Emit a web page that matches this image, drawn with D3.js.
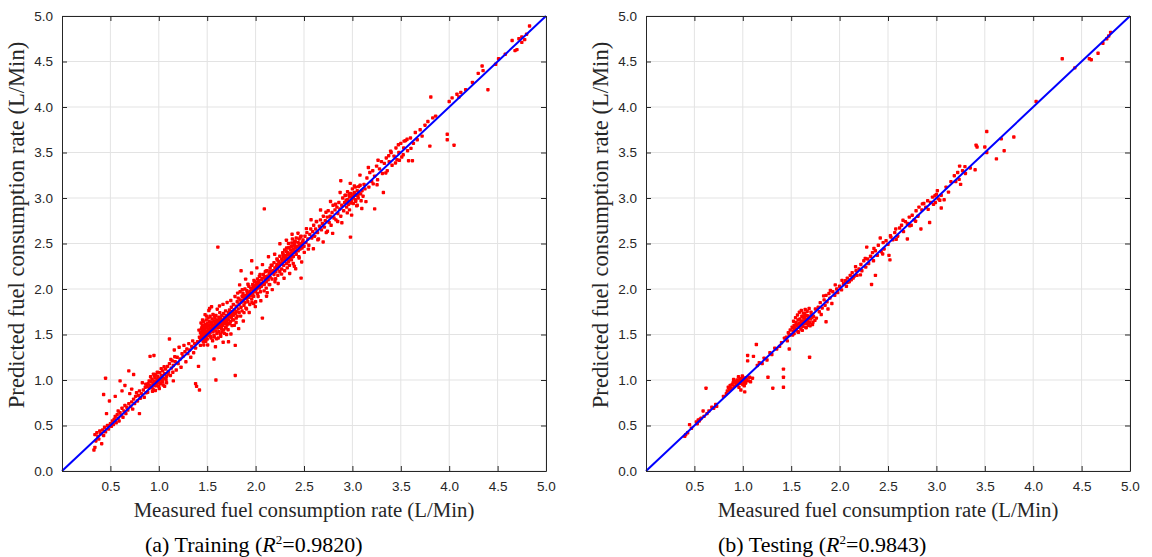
<!DOCTYPE html>
<html>
<head>
<meta charset="utf-8">
<script src="https://cdn.jsdelivr.net/npm/d3@7"></script>
<style>
	body { margin: 0; background: #fff; }
	svg { display: block; }
	.tick-label { font-family: 'Liberation Sans', Arial, sans-serif; font-size: 13.5px; fill: #262626; }
	.axis-title { font-family: 'Liberation Serif', 'Times New Roman', serif; font-size: 20.8px; fill: #262626; }
	.axis-title.y { font-size: 22.6px; }
	.caption { font-family: 'Liberation Serif', 'Times New Roman', serif; font-size: 22px; fill: #000; }
</style>
</head>
<body>
<svg id="chart" width="1152" height="557"></svg>
<script>
// tick values
let xTicks	= [0.5, 1.0, 1.5, 2.0, 2.5, 3.0, 3.5, 4.0, 4.5, 5.0];
let yTicks	= [0.0, 0.5, 1.0, 1.5, 2.0, 2.5, 3.0, 3.5, 4.0, 4.5, 5.0];
let diagonal	= [0, 5];

// training set: [measured, predicted]
let trainPoints = [
	[0.33,0.23],[0.34,0.26],[0.34,0.40],[0.35,0.33],[0.36,0.42],[0.37,0.38],[0.38,0.35],[0.39,0.44],[0.40,0.41],[0.41,0.30],[0.42,0.45],[0.43,0.39],[0.43,0.84],[0.44,0.48],[0.45,1.02],[0.45,0.43],[0.46,0.63],[0.47,0.50],[0.48,0.46],[0.49,0.77],[0.50,0.52],[0.51,0.49],[0.52,0.55],[0.53,0.51],[0.54,0.57],[0.55,0.82],[0.55,0.60],[0.56,0.53],[0.57,0.62],[0.58,0.58],[0.58,0.66],[0.59,0.55],[0.60,0.99],[0.60,0.64],[0.61,0.61],[0.62,0.88],[0.62,0.69],[0.63,0.59],[0.64,0.66],[0.65,0.94],[0.65,0.72],[0.66,0.63],[0.67,0.70],[0.68,0.67],[0.69,1.10],[0.69,0.74],[0.70,0.85],[0.71,0.71],[0.72,0.90],[0.72,0.76],[0.73,0.68],[0.74,1.06],[0.74,0.79],[0.75,0.74],[0.76,0.82],[0.77,0.86],[0.78,0.77],[0.79,0.83],[0.80,0.63],[0.80,0.88],[0.81,0.80],[0.82,0.85],[0.83,0.97],[0.84,0.89],[0.85,0.81],[0.86,0.92],[0.87,0.86],[0.88,0.93],
	[0.89,0.96],[0.90,0.91],[0.90,0.99],[0.91,1.26],[0.91,0.94],[0.92,0.98],[0.93,0.92],[0.93,1.01],[0.94,0.96],[0.94,0.90],[0.95,1.27],[0.95,0.99],[0.96,1.03],[0.96,0.94],[0.97,0.98],[0.97,1.06],[0.98,0.95],[0.98,1.01],[0.99,0.97],[0.99,1.04],[1.00,0.99],[1.00,0.93],[1.01,1.02],[1.01,1.08],[1.02,0.96],[1.02,1.00],[1.03,1.05],[1.04,0.98],[1.04,1.10],[1.05,1.02],[1.06,0.93],[1.06,1.07],[1.07,1.12],[1.08,0.97],[1.08,1.04],[1.09,1.15],[1.10,1.09],[1.11,1.45],[1.11,1.18],[1.12,1.05],[1.13,1.13],[1.14,1.21],[1.15,0.99],[1.15,1.16],[1.16,1.33],[1.17,1.20],[1.18,1.11],[1.19,1.25],[1.20,1.18],[1.21,1.36],[1.22,1.23],[1.23,1.14],[1.24,1.29],[1.25,1.26],[1.26,1.38],[1.27,1.31],[1.28,1.20],[1.29,1.34],[1.30,1.29],[1.31,1.40],[1.32,1.33],[1.33,1.25],[1.34,1.37],[1.35,1.43],[1.36,1.30],[1.37,1.40],[1.38,0.96],[1.38,1.35],[1.39,0.93],[1.40,1.42],[1.41,1.15],[1.42,0.89],[1.43,1.38],[1.44,1.46],
	[0.915,1.035],[0.945,1.065],[0.965,0.885],[0.985,1.085],[1.005,0.905],[1.025,1.125],[1.045,0.945],[0.935,0.875],[0.955,1.045],[0.975,0.935],[1.015,0.965],[1.035,1.015],[0.885,0.865],[0.865,0.955],[1.055,1.145],[1.075,1.005],[1.095,1.065],[1.125,1.225],[1.145,1.085],[1.165,1.255],
	[1.42,1.47],[1.43,1.52],[1.43,1.44],[1.44,1.56],[1.44,1.50],[1.45,1.60],[1.45,1.47],[1.45,1.53],[1.46,1.42],[1.46,1.58],[1.46,1.64],[1.47,1.50],[1.47,1.55],[1.47,1.45],[1.48,1.61],[1.48,1.52],[1.48,1.57],[1.49,1.48],[1.49,1.66],[1.49,1.54],[1.50,1.59],[1.50,1.51],[1.50,1.62],[1.50,1.45],
	[1.51,1.56],[1.51,1.68],[1.51,1.53],[1.52,1.60],[1.52,1.49],[1.52,1.64],[1.53,1.57],[1.53,1.52],[1.53,1.70],[1.54,1.61],[1.54,1.55],[1.54,1.46],[1.55,1.63],[1.55,1.58],[1.55,1.67],[1.56,1.53],[1.56,1.60],[1.56,1.72],[1.57,1.65],[1.57,1.56],[1.57,1.49],[1.58,1.62],[1.58,1.68],[1.58,1.58],[1.59,1.54],[1.59,1.64],[1.59,1.71],[1.60,1.60],[1.60,1.66],[1.60,1.51],[1.61,2.46],[1.61,1.63],[1.59,1.00],[1.57,1.23],
	[1.61,1.57],[1.62,1.69],[1.62,1.60],[1.62,1.53],[1.63,1.65],[1.63,1.74],[1.63,1.58],[1.64,1.62],[1.64,1.68],[1.64,1.48],[1.65,1.61],[1.65,1.71],[1.65,1.56],[1.66,1.66],[1.66,1.60],[1.67,1.64],[1.67,1.73],[1.67,1.55],[1.68,1.69],[1.68,1.62],[1.69,1.67],[1.69,1.58],[1.69,1.76],[1.70,1.65],[1.70,1.71],[1.70,1.50],
	[1.71,1.68],[1.71,1.62],[1.72,1.74],[1.72,1.66],[1.72,1.42],[1.73,1.70],[1.73,1.77],[1.74,1.64],[1.74,1.72],[1.75,1.69],[1.75,1.80],[1.76,1.75],[1.76,1.66],[1.77,1.71],[1.77,1.83],[1.78,1.77],[1.78,1.60],[1.79,1.73],[1.79,1.38],[1.79,1.05],[1.80,1.81],[1.80,1.75],[1.80,1.68],
	[1.415,1.548],[1.436,1.627],[1.452,1.661],[1.478,1.718],[1.493,1.702],[1.517,1.764],[1.534,1.478],[1.556,1.431],[1.573,1.472],[1.597,1.452],[1.614,1.461],[1.636,1.503],[1.653,1.528],[1.677,1.512],[1.694,1.571],[1.716,1.552],[1.733,1.618],[1.757,1.597],[1.772,1.661],[1.798,1.632],[1.525,1.785],[1.545,1.805],[1.604,1.778],[1.627,1.814],[1.663,1.831],[1.706,1.852],[1.744,1.873],[1.787,1.918],[1.465,1.385],[1.485,1.425],[1.505,1.385],[1.585,1.365],[1.665,1.415],[1.745,1.505],[1.825,1.565],[1.565,1.595],[1.585,1.635],[1.625,1.655],[1.645,1.585],[1.685,1.645],[1.705,1.605],[1.725,1.695],[1.765,1.735],[1.535,1.635],[1.575,1.705],[1.605,1.585],[1.525,1.545],[1.485,1.585],[1.455,1.505],[1.445,1.575],
	[1.81,1.86],[1.81,1.70],[1.82,1.78],[1.82,1.90],[1.83,1.83],[1.83,1.74],[1.84,1.88],[1.84,1.97],[1.85,1.80],[1.85,2.20],[1.85,1.85],[1.86,1.92],[1.86,1.76],[1.87,1.87],[1.87,1.95],[1.88,1.82],[1.88,1.90],[1.88,1.74],[1.89,2.00],[1.89,1.85],[1.90,1.93],[1.90,1.79],[1.91,1.89],[1.91,1.98],[1.92,1.94],[1.92,1.86],[1.93,2.03],[1.93,1.91],[1.94,1.97],[1.94,1.83],[1.95,2.01],[1.95,1.93],[1.96,2.31],[1.96,1.99],[1.96,1.89],[1.97,2.05],[1.97,1.95],[1.98,2.00],[1.98,1.92],[1.98,1.84],[1.99,2.08],[1.99,2.02],[2.00,1.97],[2.00,2.04],[2.00,1.86],[2.01,2.07],[2.01,2.00],[2.02,2.11],[2.02,1.95],[2.03,2.04],[2.03,2.09],[2.04,2.01],[2.04,2.14],[2.05,2.06],[2.05,1.97],[2.06,2.10],[2.06,2.03],[2.07,1.68],[2.07,2.12],[2.08,2.07],[2.08,2.16],[2.09,2.88],[2.09,2.05],[2.10,2.11],[2.10,2.19],[2.11,2.08],[2.11,2.01],[2.12,2.14],[2.12,2.20],[2.12,1.96],[2.13,2.10],[2.14,2.17],[2.14,2.05],[2.15,2.23],[2.15,2.13],[2.16,2.18],[2.17,2.26],[2.17,2.11],[2.18,2.20],[2.19,2.16],[2.19,2.29],[2.20,2.23],[2.20,2.08],[2.21,2.19],[2.22,2.27],[2.22,2.33],[2.23,2.22],[2.23,2.15],[2.24,2.30],[2.24,2.25],[2.25,2.36],[2.25,2.19],[2.26,2.28],[2.27,2.33],[2.27,2.22],[2.28,2.40],[2.28,2.30],[2.29,2.26],[2.29,2.35],[2.30,2.43],[2.30,2.31],[2.30,2.20],[2.31,2.37],[2.32,2.28],[2.32,2.45],[2.33,2.34],[2.33,2.40],[2.34,2.30],[2.34,2.50],[2.35,2.38],[2.35,2.26],[2.36,2.43],[2.36,2.35],[2.37,2.47],[2.37,2.32],[2.38,2.40],[2.38,2.55],[2.39,2.44],[2.39,2.36],[2.40,2.48],[2.40,2.41],[2.40,2.25],[2.41,2.52],[2.41,2.45],[2.42,2.38],[2.42,2.56],[2.43,2.47],[2.44,2.42],[2.44,2.51],[2.45,2.55],[2.45,2.34],[2.46,2.48],[2.46,2.44],[2.47,2.12],[2.47,2.58],[2.48,2.50],[2.48,2.45],[2.49,2.54],[2.50,2.47],
	[1.815,1.955],[1.835,2.045],[1.862,1.992],[1.897,2.108],[1.921,2.052],[1.958,2.176],[1.983,2.094],[2.013,2.232],[2.047,2.161],[2.071,2.268],[2.108,2.199],[2.133,2.355],[2.162,2.261],[2.197,2.382],[2.226,2.318],[2.251,2.497],[2.283,2.384],[2.318,2.536],[2.341,2.452],[2.377,2.601],[2.402,2.508],[2.438,2.613],[2.463,2.571],
	[1.845,1.702],[1.873,1.648],[1.906,1.781],[1.934,1.742],[1.962,1.851],[1.997,1.806],[2.026,1.918],[2.054,1.871],[2.088,1.979],[2.113,1.921],[2.146,2.048],[2.172,1.993],[2.207,2.112],[2.233,2.061],[2.268,2.164],[2.294,2.118],[2.327,2.232],[2.352,2.171],[2.389,2.281],[2.414,2.222],[2.447,2.356],[2.476,2.297],[2.503,2.402],
	[1.855,1.875],[1.885,1.925],[1.915,1.955],[1.945,1.945],[1.975,2.025],[2.005,2.015],[2.035,2.065],[2.065,2.055],[2.095,2.135],[2.125,2.125],[2.155,2.195],[2.185,2.185],[2.215,2.245],[2.245,2.265],[2.275,2.305],[2.305,2.335],[2.335,2.375],[2.365,2.395],[2.395,2.425],[2.425,2.465],[2.455,2.495],[2.485,2.515],[2.285,2.365],[2.315,2.415],[2.345,2.455],[2.375,2.505],[2.405,2.525],[2.355,2.335],[2.385,2.355],[2.415,2.405],
	[2.51,2.58],[2.52,2.51],[2.53,2.62],[2.54,2.55],[2.55,2.48],[2.56,2.60],[2.57,2.66],[2.58,2.56],[2.59,2.63],[2.60,2.70],[2.61,2.58],[2.62,2.66],[2.63,2.74],[2.64,2.62],[2.65,2.55],[2.66,2.69],[2.67,2.76],[2.68,2.65],[2.69,2.72],[2.70,2.80],[2.71,2.68],[2.72,2.75],[2.73,2.62],[2.74,2.79],[2.75,2.86],[2.76,2.73],[2.77,2.80],[2.78,2.70],[2.79,2.84],[2.80,2.92],[2.81,2.78],[2.82,2.87],[2.83,2.76],[2.84,2.90],[2.85,2.83],[2.86,2.95],[2.87,2.88],[2.88,3.19],[2.88,2.80],[2.89,2.92],[2.90,3.00],[2.91,2.86],[2.92,2.95],[2.93,3.03],[2.94,2.90],[2.95,2.98],[2.95,3.07],[2.96,2.93],[2.97,3.01],[2.97,2.87],[2.98,2.57],[2.98,3.05],[2.99,2.97],[3.00,3.02],[3.00,3.10],[3.01,2.94],[3.01,3.00],[3.02,3.06],[3.03,2.98],[3.03,3.12],[3.04,3.03],[3.05,2.92],[3.05,3.08],[3.06,3.00],[3.07,3.05],[3.08,3.14],[3.09,2.97],[3.10,3.08],[3.11,3.02],[3.12,3.15],[3.13,3.10],[3.14,2.96],
	[2.525,2.664],[2.573,2.761],[2.628,2.742],[2.671,2.868],[2.727,2.843],[2.774,2.962],[2.826,2.931],[2.873,3.061],[2.924,3.028],[2.978,3.161],[3.021,3.132],[3.078,3.251],
	[2.545,2.438],[2.597,2.442],[2.643,2.541],[2.698,2.517],[2.742,2.634],[2.796,2.611],[2.848,2.742],[2.891,2.728],[2.947,2.836],[2.992,2.812],[3.044,2.913],[3.097,2.884],
	[2.965,3.035],[2.985,2.945],[3.015,3.045],[3.035,2.965],[3.055,3.025],[2.955,2.955],[3.005,3.005],[2.935,2.975],[3.065,3.125],[3.085,3.045],
	[3.15,3.22],[3.17,3.12],[3.18,3.28],[3.20,3.18],[3.21,3.30],[3.23,2.88],[3.23,3.24],[3.25,3.35],[3.26,3.20],[3.28,3.32],[3.30,3.40],[3.31,3.27],[3.32,3.06],[3.33,3.38],[3.35,3.44],[3.36,3.30],[3.38,3.40],[3.40,3.50],[3.41,3.36],[3.43,3.46],[3.45,3.55],[3.46,3.42],[3.48,3.50],[3.50,3.60],[3.51,3.45],[3.53,3.55],[3.55,3.63],[3.57,3.52],[3.58,3.41],[3.60,3.66],[3.62,3.41],[3.63,3.60],[3.65,3.72],[3.67,3.64],[3.70,3.75],[3.72,3.68],[3.75,3.80],[3.78,3.84],[3.80,3.57],[3.81,4.11],[3.83,3.88],[3.86,3.90],[3.98,3.64],[3.98,3.70],[4.00,4.06],[4.03,4.10],[4.05,3.58],[4.08,4.14],[4.10,4.11],[4.12,4.16],[4.17,4.19],[4.24,4.27],[4.30,4.37],[4.34,4.45],[4.35,4.40],[4.40,4.19],[4.48,4.47],[4.51,4.53],[4.58,4.58],[4.65,4.73],[4.68,4.62],[4.70,4.63],[4.72,4.75],[4.75,4.77],[4.75,4.71],[4.78,4.74],[4.80,4.80],[4.83,4.89],
	[3.165,3.335],[3.215,3.155],[3.265,3.415],[3.345,3.275],[3.395,3.515],[3.445,3.385],[3.475,3.585],[3.525,3.475],[3.565,3.645],[3.605,3.545],[3.255,3.145],[3.375,3.465],[3.485,3.415],[3.535,3.625]
];

// testing set: [measured, predicted]
let testPoints = [
	[0.40,0.38],[0.41,0.40],[0.43,0.42],[0.45,0.51],[0.47,0.47],[0.52,0.54],[0.53,0.52],[0.54,0.56],[0.55,0.55],[0.56,0.57],[0.57,0.58],[0.59,0.66],[0.60,0.60],[0.62,0.91],[0.63,0.63],[0.65,0.66],[0.68,0.70],[0.70,0.69],[0.72,0.73],[0.73,0.71],[0.80,0.82],[0.83,0.85],[0.84,0.88],[0.85,0.92],[0.86,0.89],[0.87,0.94],[0.88,0.91],[0.89,0.95],[0.90,0.97],[0.91,0.93],[0.92,0.98],[0.93,0.95],[0.94,1.00],[0.95,0.96],[0.96,0.99],[0.96,0.92],[0.97,1.01],[0.98,0.97],[0.98,0.89],[0.99,1.00],[1.00,0.95],[1.00,1.03],[1.01,0.98],[1.02,0.87],[1.02,1.01],[1.03,0.97],[1.04,1.00],[1.05,1.27],[1.05,1.21],[1.06,0.99],[1.07,1.03],[1.08,0.98],[1.10,1.02],[1.11,1.26],[1.14,1.39],[1.15,1.16],[1.17,1.19],[1.20,1.18],[1.22,1.24],[1.25,1.22],[1.26,1.03],[1.28,1.30],[1.30,1.28],[1.31,0.91],[1.33,1.35],[1.35,1.34],[1.38,1.37],[1.40,1.41],[1.42,1.12],[1.42,0.92],[1.42,1.03],
	[0.905,1.005],[0.935,0.985],[0.955,1.035],[0.975,0.965],[0.995,1.045],[1.015,0.935],[1.035,1.025],[0.945,0.945],[0.985,1.015],[1.025,0.965],
	[1.43,1.46],[1.45,1.47],[1.46,1.43],[1.47,1.52],[1.48,1.34],[1.48,1.49],[1.49,1.55],[1.50,1.50],[1.51,1.58],[1.52,1.54],[1.53,1.60],[1.53,1.51],[1.54,1.57],[1.55,1.63],[1.55,1.55],[1.56,1.60],[1.57,1.66],[1.57,1.53],[1.58,1.62],[1.58,1.58],[1.59,1.67],[1.60,1.64],[1.60,1.56],[1.61,1.70],[1.61,1.61],[1.62,1.65],[1.62,1.59],[1.63,1.68],[1.63,1.62],[1.64,1.73],[1.64,1.64],[1.65,1.58],[1.65,1.67],[1.66,1.62],[1.66,1.71],[1.67,1.65],[1.68,1.60],[1.68,1.69],[1.69,1.25],[1.69,1.63],[1.70,1.67],[1.71,1.72],[1.72,1.61],[1.73,1.70],[1.75,1.78],[1.76,1.68],[1.78,1.80],[1.79,1.75],[1.80,1.85],[1.81,1.72],[1.82,1.79],[1.84,1.88],[1.85,1.82],[1.86,1.64],[1.86,1.93],[1.87,1.86],[1.88,1.78],[1.89,1.95],[1.90,1.90],[1.92,1.84],[1.93,1.97],[1.95,1.93],[1.97,2.00],[1.98,1.96],
	[1.525,1.645],[1.545,1.685],[1.565,1.715],[1.585,1.745],[1.605,1.765],[1.625,1.735],[1.645,1.775],[1.665,1.755],[1.685,1.785],[1.705,1.745],[1.575,1.525],[1.615,1.545],[1.655,1.575],[1.695,1.595],[1.725,1.635],[1.745,1.655],[1.635,1.695],[1.595,1.605],[1.675,1.705],[1.715,1.685],[1.555,1.605],[1.625,1.625],[1.665,1.655],[1.515,1.495],[1.535,1.565],
	[2.00,2.03],[2.02,1.99],[2.04,2.06],[2.06,2.09],[2.07,2.03],[2.08,2.12],[2.10,2.08],[2.11,2.15],[2.12,2.10],[2.13,2.18],[2.14,2.12],[2.15,2.14],[2.17,2.20],[2.18,2.15],[2.20,2.22],[2.22,2.27],[2.23,2.20],[2.25,2.31],[2.27,2.24],[2.28,2.46],[2.29,2.33],[2.30,2.28],[2.32,2.36],[2.33,2.05],[2.34,2.40],[2.35,2.31],[2.37,2.15],[2.37,2.42],[2.39,2.37],[2.40,2.48],[2.42,2.56],[2.43,2.41],[2.45,2.51],[2.46,2.44],[2.48,2.53],[2.50,2.49],[2.51,2.37],[2.52,2.32],[2.53,2.57],[2.55,2.54],[2.57,2.62],[2.58,2.66],[2.60,2.58],[2.62,2.67],[2.64,2.70],[2.66,2.63],[2.68,2.74],[2.70,2.55],[2.70,2.72],[2.72,2.79],[2.74,2.70],[2.75,2.81],[2.77,2.76],[2.79,2.86],[2.81,2.80],[2.82,2.90],[2.84,2.66],[2.85,2.87],[2.87,2.94],[2.89,2.90],[2.91,2.97],[2.93,2.73],[2.94,2.95],[2.96,3.01],[2.97,2.93],[2.99,2.95],[3.00,3.04],[3.01,3.08],[3.02,2.99],[3.05,2.89],[3.05,3.03],[3.08,2.98],
	[1.835,1.925],[1.905,1.985],[1.955,2.045],[2.025,2.095],[2.085,2.075],[2.165,2.245],[2.215,2.155],[2.265,2.335],[2.355,2.445],[2.445,2.385],[2.525,2.585],[2.585,2.545],[2.655,2.755],[2.725,2.695],[2.785,2.745],[2.855,2.935],[2.915,2.875],[2.985,3.025],[3.035,2.975],[3.125,3.065],[3.185,3.245],[3.235,3.205],[3.295,3.345],
	[3.10,3.12],[3.15,3.18],[3.20,3.18],[3.22,3.28],[3.24,3.35],[3.25,3.15],[3.27,3.30],[3.30,3.27],[3.35,3.33],[3.40,3.31],[3.41,3.58],[3.42,3.56],[3.50,3.56],[3.52,3.73],[3.52,3.50],[3.62,3.43],[3.67,3.65],[3.70,3.52],[3.80,3.67],[4.03,4.06],[4.30,4.53],[4.43,4.43],[4.58,4.53],[4.60,4.52],[4.67,4.59],[4.72,4.70],[4.76,4.75],[4.78,4.78],[4.80,4.82]
];

let panels = [
	{ id: 'train', left: 62,  points: trainPoints, caption: '(a) Training (', r2: '=0.9820)', capX: 145 },
	{ id: 'test',  left: 646, points: testPoints,  caption: '(b) Testing (',  r2: '=0.9843)', capX: 718 }
];

let plotW = 484, plotTop = 16, plotBottom = 471;
let svg = d3.select('#chart');

panels.forEach((p) => {
	let x = d3.scaleLinear().domain([0, 5]).range([p.left, p.left + plotW]);
	let y = d3.scaleLinear().domain([0, 5]).range([plotBottom, plotTop]);
	let g = svg.append('g').attr('id', p.id);

	// grid
	g.append('g').selectAll('line').data(xTicks).join('line')
		.attr('x1', (d) => x(d)).attr('x2', (d) => x(d)).attr('y1', plotTop).attr('y2', plotBottom)
		.attr('stroke', '#e3e3e3').attr('stroke-width', 1);
	g.append('g').selectAll('line').data(yTicks).join('line')
		.attr('y1', (d) => y(d)).attr('y2', (d) => y(d)).attr('x1', p.left).attr('x2', p.left + plotW)
		.attr('stroke', '#e3e3e3').attr('stroke-width', 1);

	// scatter
	g.append('g').selectAll('rect').data(p.points).join('rect')
		.attr('x', (d) => x(d[0]) - 1.7).attr('y', (d) => y(d[1]) - 1.7)
		.attr('width', 3.4).attr('height', 3.4).attr('rx', 0.8).attr('fill', '#ff0000');

	// y = x reference
	g.append('line')
		.attr('x1', x(diagonal[0])).attr('y1', y(diagonal[0]))
		.attr('x2', x(diagonal[1])).attr('y2', y(diagonal[1]))
		.attr('stroke', '#0000ff').attr('stroke-width', 2);

	// axes with inward ticks, box on
	let bottom = d3.axisBottom(x).tickValues(xTicks).tickSizeInner(-5).tickSizeOuter(0).tickPadding(10).tickFormat(d3.format('.1f'));
	let left = d3.axisLeft(y).tickValues(yTicks).tickSizeInner(-5).tickSizeOuter(0).tickPadding(9).tickFormat(d3.format('.1f'));
	let top = d3.axisTop(x).tickValues(xTicks).tickSizeInner(-5).tickSizeOuter(0).tickFormat('');
	let right = d3.axisRight(y).tickValues(yTicks).tickSizeInner(-5).tickSizeOuter(0).tickFormat('');

	let ax = [
		g.append('g').attr('transform', 'translate(0,' + plotBottom + ')').call(bottom),
		g.append('g').attr('transform', 'translate(' + p.left + ',0)').call(left),
		g.append('g').attr('transform', 'translate(0,' + plotTop + ')').call(top),
		g.append('g').attr('transform', 'translate(' + (p.left + plotW) + ',0)').call(right)
	];
	ax.forEach((a) => {
		a.select('.domain').attr('stroke', '#262626');
		a.selectAll('.tick line').attr('stroke', '#262626');
		a.selectAll('.tick text').attr('class', 'tick-label').attr('font-family', null).attr('font-size', null).attr('fill', null);
	});

	// titles
	g.append('text').attr('class', 'axis-title').attr('text-anchor', 'middle')
		.attr('x', p.left + plotW / 2).attr('y', 517).text('Measured fuel consumption rate (L/Min)');
	g.append('text').attr('class', 'axis-title y').attr('text-anchor', 'middle')
		.attr('transform', 'translate(' + (p.left - 38) + ',225) rotate(-90)')
		.text('Predicted fuel consumption rate (L/Min)');

	let cap = g.append('text').attr('class', 'caption').attr('x', p.capX).attr('y', 552);
	cap.append('tspan').text(p.caption);
	cap.append('tspan').attr('font-style', 'italic').text('R');
	cap.append('tspan').attr('font-size', '13px').attr('dy', -8).text('2');
	cap.append('tspan').attr('dy', 8).text(p.r2);
});
</script>
</body>
</html>
